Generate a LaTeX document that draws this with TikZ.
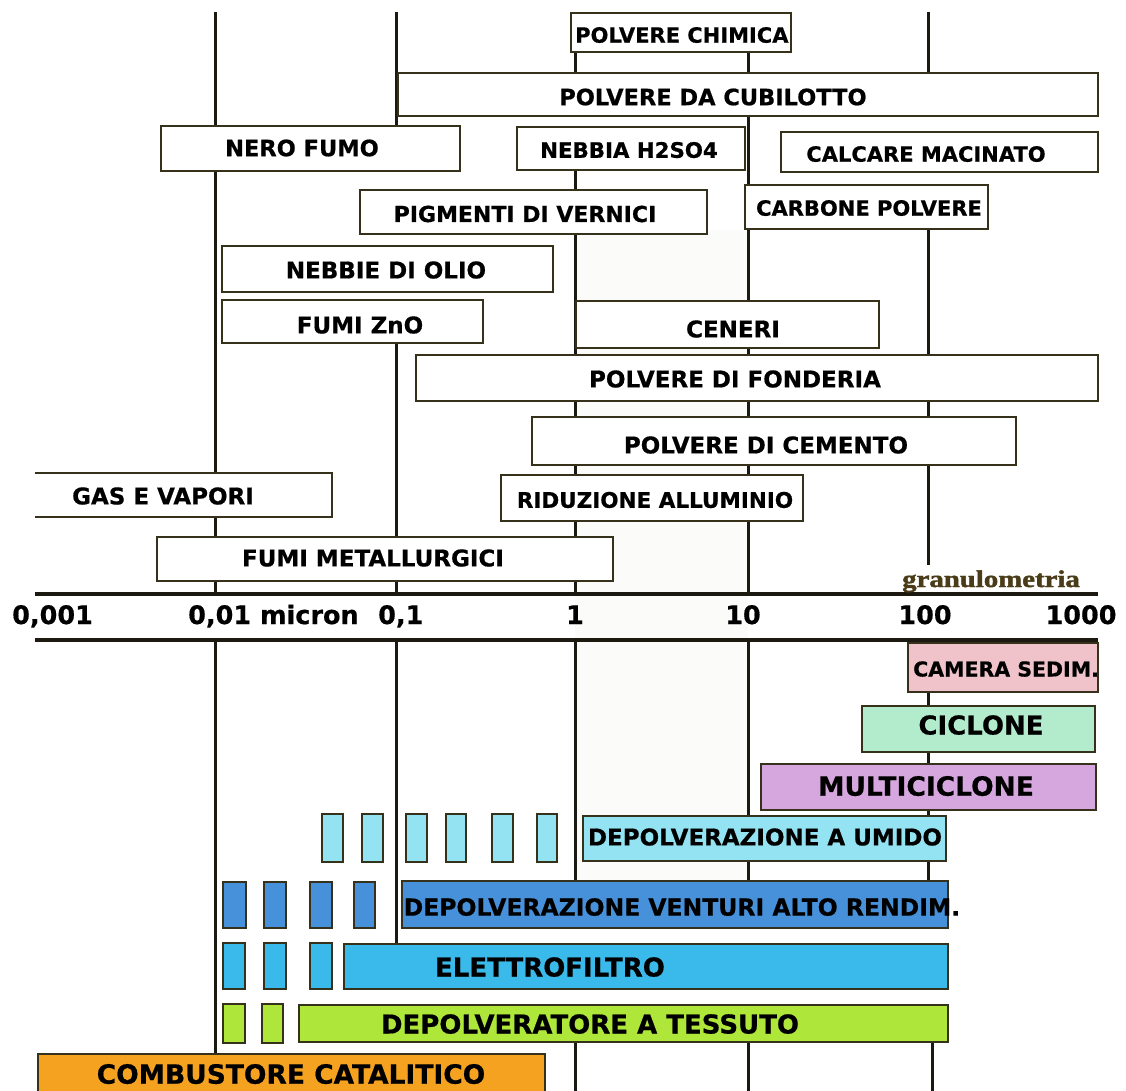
\documentclass[tikz,border=0pt]{standalone}
\usepackage{fontspec}
\setmainfont{DejaVu Sans}[BoldFeatures={FakeBold=0.6}]
\newfontfamily\granfont{Liberation Serif}[BoldFeatures={FakeBold=1.5}]
\usetikzlibrary{fit}
\definecolor{edgec}{HTML}{35311A}
\definecolor{gridc}{HTML}{1C1A10}
\definecolor{granc}{HTML}{4A3C18}
\definecolor{bandc}{HTML}{FBFBFA}
\definecolor{camerac}{HTML}{EFC3C9}
\definecolor{ciclonec}{HTML}{B3EBCD}
\definecolor{multic}{HTML}{D6A6DE}
\definecolor{umidoc}{HTML}{93E3F2}
\definecolor{venturic}{HTML}{4791DB}
\definecolor{elettroc}{HTML}{3ABAEA}
\definecolor{tessutoc}{HTML}{AFE63A}
\definecolor{combc}{HTML}{F4A21F}
\tikzset{
  box/.style={draw=edgec, line width=2pt, fill=white, inner sep=0pt},
  boxline/.style={draw=edgec, line width=2pt},
  lbl/.style={font=\bfseries\fontsize{#1}{#1}\selectfont, inner sep=0pt, anchor=base},
  lbl/.default=21,
  gridline/.style={draw=gridc, line width=3pt},
  axisline/.style={draw=gridc, line width=4.5pt},
  ticklbl/.style={font=\bfseries\fontsize{25.5}{25.5}\selectfont, inner sep=0pt},
}
\newcommand\mybox[6]{\node[box, fill=#6, fit={(#2,#3) (#4,#5)}] (#1) {};}
\begin{document}
\begin{tikzpicture}[x=1pt,y=-1pt]
\useasboundingbox (0,0) rectangle (1126,1091);
\fill[white] (0,0) rectangle (1126,1091);
\fill[bandc] (575,230) rectangle (748,880);

% grid lines (upper part)
\draw[gridline] (215,12) -- (215,594);
\draw[gridline] (396,12) -- (396,126);
\draw[gridline] (396,342) -- (396,594);
\draw[gridline] (575,52) -- (575,73);
\draw[gridline] (575,170) -- (575,594);
\draw[gridline] (748,52) -- (748,594);
\draw[gridline] (928,12) -- (928,116);
\draw[gridline] (928,228) -- (928,565);
% grid lines (lower part)
\draw[gridline] (215,640) -- (215,1054);
\draw[gridline] (396,640) -- (396,943);
\draw[gridline] (575,640) -- (575,880);
\draw[gridline] (575,1043) -- (575,1091);
\draw[gridline] (748,640) -- (748,816);
\draw[gridline] (748,861) -- (748,880);
\draw[gridline] (748,1043) -- (748,1091);
\draw[gridline] (928,692) -- (928,880);
\draw[gridline] (932,1043) -- (932,1091);

% axis
\coordinate (ax1a) at (35,594);
\coordinate (ax1b) at (1098,594);
\coordinate (ax2a) at (35,640);
\coordinate (ax2b) at (1098,640);
\draw[axisline] (ax1a) -- (ax1b);
\draw[axisline] (ax2a) -- (ax2b);
\node[font=\granfont\bfseries\fontsize{24}{24}\selectfont, text=granc, anchor=base, inner sep=0pt, xscale=1.2] (gran) at (991,587) {granulometria};
\node[ticklbl, anchor=base west] (t1) at (12,624) {0,001};
\node[ticklbl, anchor=base west] (t2) at (188,624) {0,01 micron};
\node[ticklbl, anchor=base west] (t3) at (378,624) {0,1};
\node[ticklbl, anchor=base] (t4) at (575,624) {1};
\node[ticklbl, anchor=base] (t5) at (743,624) {10};
\node[ticklbl, anchor=base] (t6) at (925,624) {100};
\node[ticklbl, anchor=base] (t7) at (1081,624) {1000};

% upper boxes
\mybox{chimica}{571}{13}{791}{52}{white}
\mybox{cubilotto}{398}{73}{1098}{116}{white}
\mybox{nero}{161}{126}{460}{171}{white}
\mybox{nebbia}{517}{127}{745}{170}{white}
\mybox{calcare}{781}{132}{1098}{172}{white}
\mybox{pigmenti}{360}{190}{707}{234}{white}
\mybox{carbone}{745}{185}{988}{229}{white}
\mybox{olio}{222}{246}{553}{292}{white}
\mybox{zno}{222}{300}{483}{343}{white}
\mybox{ceneri}{576}{301}{879}{348}{white}
\mybox{fonderia}{416}{355}{1098}{401}{white}
\mybox{cemento}{532}{417}{1016}{465}{white}
\node[fill=white, inner sep=0pt, fit={(35,473) (332,517)}] (gas) {};
\draw[boxline] (gas.north west) -- (gas.north east) -- (gas.south east) -- (gas.south west);
\mybox{riduzione}{501}{475}{803}{521}{white}
\mybox{metall}{157}{537}{613}{581}{white}

\node[lbl, anchor=base west] (chimica-t) at (575,42.7) {POLVERE CHIMICA};
\node[lbl=22.5] (cubilotto-t) at (713,105.2) {POLVERE DA CUBILOTTO};
\node[lbl=22.5] (nero-t) at (302,156.2) {NERO FUMO};
\node[lbl=21.3] (nebbia-t) at (629,157.8) {NEBBIA H2SO4};
\node[lbl] (calcare-t) at (926,161.7) {CALCARE MACINATO};
\node[lbl=22] (pigmenti-t) at (525,222) {PIGMENTI DI VERNICI};
\node[lbl] (carbone-t) at (869,215.7) {CARBONE POLVERE};
\node[lbl=23] (olio-t) at (386,278.4) {NEBBIE DI OLIO};
\node[lbl=23] (zno-t) at (360,333.4) {FUMI ZnO};
\node[lbl=23] (ceneri-t) at (733,337.4) {CENERI};
\node[lbl=23] (fonderia-t) at (735,387.4) {POLVERE DI FONDERIA};
\node[lbl=23] (cemento-t) at (766,453.4) {POLVERE DI CEMENTO};
\node[lbl=23] (gas-t) at (163,504.4) {GAS E VAPORI};
\node[lbl=21.5] (riduzione-t) at (655,507.8) {RIDUZIONE ALLUMINIO};
\node[lbl=23] (metall-t) at (373,566.4) {FUMI METALLURGICI};

% lower boxes
\mybox{camera}{908}{643}{1098}{692}{camerac}
\mybox{ciclone}{862}{706}{1095}{752}{ciclonec}
\mybox{multi}{761}{764}{1096}{810}{multic}
\mybox{umido}{583}{816}{946}{861}{umidoc}
\foreach \a/\b [count=\i] in {322/343,362/383,406/427,446/466,492/513,537/557}
  {\node[box, fill=umidoc, fit={(\a,814) (\b,862)}] (u\i) {};}
\mybox{venturi}{402}{881}{948}{928}{venturic}
\foreach \a/\b [count=\i] in {223/246,264/286,310/332,354/375}
  {\node[box, fill=venturic, fit={(\a,882) (\b,928)}] (v\i) {};}
\mybox{elettro}{344}{944}{948}{989}{elettroc}
\foreach \a/\b [count=\i] in {223/245,264/286,310/332}
  {\node[box, fill=elettroc, fit={(\a,943) (\b,989)}] (e\i) {};}
\mybox{tessuto}{299}{1005}{948}{1042}{tessutoc}
\foreach \a/\b [count=\i] in {223/245,262/283}
  {\node[box, fill=tessutoc, fit={(\a,1004) (\b,1043)}] (s\i) {};}
\mybox{comb}{38}{1054}{545}{1100}{combc}

\node[lbl=20.5, anchor=base west] (camera-t) at (913,676.5) {CAMERA SEDIM.};
\node[lbl=26] (ciclone-t) at (981,734.5) {CICLONE};
\node[lbl=26.5] (multi-t) at (926,795.7) {MULTICICLONE};
\node[lbl=23] (umido-t) at (765,845.4) {DEPOLVERAZIONE A UMIDO};
\node[lbl=23.5] (venturi-t) at (682,915.6) {DEPOLVERAZIONE VENTURI ALTO RENDIM.};
\node[lbl=26] (elettro-t) at (550,976.5) {ELETTROFILTRO};
\node[lbl=26] (tessuto-t) at (590,1033.5) {DEPOLVERATORE A TESSUTO};
\node[lbl=26.5] (comb-t) at (291,1083.7) {COMBUSTORE CATALITICO};
\end{tikzpicture}
\end{document}
